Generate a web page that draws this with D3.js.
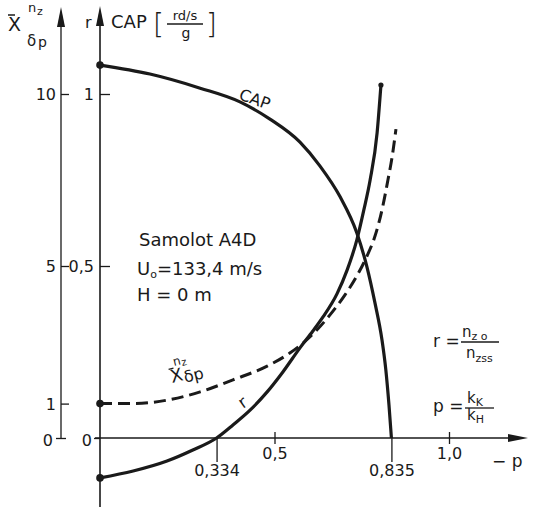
<!DOCTYPE html>
<html><head><meta charset="utf-8">
<script src="https://cdn.jsdelivr.net/npm/d3@7"></script>
<style>
html,body{margin:0;padding:0;background:#fff;}
svg{display:block;}
text{font-family:"DejaVu Sans","Noto Sans",sans-serif;fill:#1a1a1a;}
</style></head>
<body><svg id="c" width="533" height="507"></svg>
<script>
// ---- data ----
const capP   = [0, 0.143, 0.287, 0.401, 0.487, 0.573, 0.630, 0.688, 0.736, 0.765, 0.788, 0.808, 0.819, 0.828, 0.835];
const capVal = [1.084, 1.058, 1.017, 0.977, 0.927, 0.860, 0.791, 0.701, 0.596, 0.497, 0.392, 0.285, 0.198, 0.096, 0];
const rP     = [0, 0.095, 0.192, 0.266, 0.334, 0.381, 0.430, 0.479, 0.524, 0.573, 0.610, 0.639, 0.679, 0.708, 0.736, 0.756, 0.774, 0.794, 0.805];
const rVal   = [-0.116, -0.096, -0.067, -0.035, 0, 0.038, 0.081, 0.134, 0.192, 0.262, 0.311, 0.352, 0.419, 0.488, 0.576, 0.663, 0.750, 0.887, 1.026];
const xP     = [0, 0.095, 0.192, 0.287, 0.381, 0.479, 0.544, 0.610, 0.659, 0.702, 0.736, 0.765, 0.788, 0.808, 0.825, 0.837, 0.848];
const xVal   = [1.0, 1.0, 1.10, 1.34, 1.69, 2.09, 2.47, 3.02, 3.58, 4.16, 4.71, 5.29, 5.87, 6.63, 7.50, 8.17, 8.98];
const leftTicks = [1, 5, 10];
const mainTicks = [0.5, 1];
const pMajorTicks = [0.5, 1.0];
const pMarkedTicks = [0.334, 0.835];

const svg = d3.select("#c");
const x  = d3.scaleLinear().domain([0, 1]).range([100, 449]);
const yR = d3.scaleLinear().domain([0, 1]).range([438, 94]);
const yX = d3.scaleLinear().domain([0, 10]).range([438, 94]);
const fmt = d => String(d).replace(".", ",");
const ink = "#1a1a1a";

// axis lines with arrows
function arrowUp(cx, tip){ svg.append("path").attr("d",`M${cx},${tip} L${cx-4},${tip+20} L${cx+4},${tip+20} Z`).attr("fill",ink); }
svg.append("line").attr("x1",61).attr("x2",61).attr("y1",yX(0)).attr("y2",12).attr("stroke",ink).attr("stroke-width",1.3);
arrowUp(61, 7);
svg.append("line").attr("x1",100).attr("x2",100).attr("y1",507).attr("y2",12).attr("stroke",ink).attr("stroke-width",1.6);
arrowUp(100, 6);
svg.append("line").attr("x1",95).attr("x2",520).attr("y1",yR(0)).attr("y2",yR(0)).attr("stroke",ink).attr("stroke-width",1.5);
svg.append("path").attr("d",`M528,${yR(0)} L508,${yR(0)-4} L508,${yR(0)+4} Z`).attr("fill",ink);

function styleAxis(g, dy){
  g.select(".domain").remove();
  g.selectAll(".tick line").attr("stroke",ink).attr("stroke-width",1.3);
  g.selectAll(".tick text").attr("font-size",16).attr("fill",ink).attr("font-family","DejaVu Sans, sans-serif");
  if (dy) g.selectAll(".tick text").attr("dy",dy);
}
// left axis (X scale)
styleAxis(svg.append("g").attr("transform","translate(61,0)")
  .call(d3.axisLeft(yX).tickValues(leftTicks).tickSizeInner(-8).tickSizeOuter(0).tickPadding(5).tickFormat(fmt)), "0.36em");
styleAxis(svg.append("g").attr("transform","translate(66,0)")
  .call(d3.axisLeft(yX).tickValues([0]).tickSizeInner(10).tickSizeOuter(0).tickPadding(3).tickFormat(fmt)), "0.45em");
// main axis (r / CAP scale)
styleAxis(svg.append("g").attr("transform","translate(100,0)")
  .call(d3.axisLeft(yR).tickValues(mainTicks).tickSizeInner(-10).tickSizeOuter(0).tickPadding(6).tickFormat(fmt)), "0.36em");
styleAxis(svg.append("g").attr("transform","translate(100,0)")
  .call(d3.axisLeft(yR).tickValues([0]).tickSizeInner(6).tickSizeOuter(0).tickPadding(2).tickFormat(fmt)), "0.45em");
// p axis
styleAxis(svg.append("g").attr("transform",`translate(0,${yR(0)-6})`)
  .call(d3.axisBottom(x).tickValues(pMajorTicks).tickSizeInner(12).tickSizeOuter(0).tickPadding(4)
  .tickFormat(d=>d3.format(".1f")(d).replace(".",","))));
styleAxis(svg.append("g").attr("transform",`translate(0,${yR(0)})`)
  .call(d3.axisBottom(x).tickValues(pMarkedTicks).tickSizeInner(24).tickSizeOuter(0).tickPadding(3).tickFormat(fmt)));

// curves
const lineR = d3.line().x(d=>x(d[0])).y(d=>yR(d[1])).curve(d3.curveMonotoneX);
const lineX = d3.line().x(d=>x(d[0])).y(d=>yX(d[1])).curve(d3.curveMonotoneX);
const capData = capP.map((p,i)=>[p,capVal[i]]);
const rData = rP.map((p,i)=>[p,rVal[i]]);
const xData = xP.map((p,i)=>[p,xVal[i]]);
svg.append("path").attr("d",lineR(capData)).attr("fill","none").attr("stroke",ink).attr("stroke-width",3.2);
svg.append("path").attr("d",lineR(rData)).attr("fill","none").attr("stroke",ink).attr("stroke-width",3.2);
svg.append("path").attr("d",lineX(xData)).attr("fill","none").attr("stroke",ink).attr("stroke-width",3)
  .attr("stroke-dasharray","12,6");
// dots
[[x(capP[0]),yR(capVal[0])],[x(rP[0]),yR(rVal[0])],[x(xP[0]),yX(xVal[0])],[x(rP[rP.length-1]),yR(rVal[rVal.length-1])]]
  .forEach(([cx,cy],i)=>svg.append("circle").attr("cx",cx).attr("cy",cy).attr("r",i===3?2.6:3.8).attr("fill",ink));

// axis titles
const t1 = svg.append("g");
t1.append("text").attr("x",8).attr("y",31).attr("font-size",19).text("X");
t1.append("line").attr("x1",8).attr("x2",15).attr("y1",15).attr("y2",15).attr("stroke",ink).attr("stroke-width",1.5);
t1.append("text").attr("x",28).attr("y",12).attr("font-size",13).text("n");
t1.append("text").attr("x",37).attr("y",15).attr("font-size",11).text("z");
t1.append("text").attr("x",27).attr("y",46).attr("font-size",15).text("δ");
t1.append("text").attr("x",38).attr("y",47).attr("font-size",14).text("p");

svg.append("text").attr("x",85).attr("y",28).attr("font-size",16).text("r");
svg.append("text").attr("x",111).attr("y",28).attr("font-size",18).text("CAP");
svg.append("text").attr("x",153).attr("y",34).attr("font-size",28).attr("font-weight","300").text("[");
svg.append("text").attr("x",206).attr("y",34).attr("font-size",28).attr("font-weight","300").text("]");
svg.append("text").attr("x",185).attr("y",20).attr("font-size",13).attr("text-anchor","middle").text("rd/s");
svg.append("line").attr("x1",167).attr("x2",203).attr("y1",24).attr("y2",24).attr("stroke",ink).attr("stroke-width",1.5);
svg.append("text").attr("x",186).attr("y",38).attr("font-size",14).attr("text-anchor","middle").text("g");

// p axis label
svg.append("text").attr("x",492).attr("y",467).attr("font-size",17).text("− p");

// curve labels
svg.append("text").attr("transform","translate(238,99) rotate(20)").attr("font-size",16).text("CAP");
svg.append("text").attr("transform","translate(243,409) rotate(-35)").attr("font-size",17).text("r");
const lx = svg.append("g").attr("transform","translate(172,383) rotate(-14)");
lx.append("text").attr("x",0).attr("y",0).attr("font-size",18).text("X");
lx.append("line").attr("x1",0).attr("x2",5).attr("y1",-14).attr("y2",-14).attr("stroke",ink).attr("stroke-width",1.3);
lx.append("text").attr("x",6).attr("y",-16).attr("font-size",12).text("n");
lx.append("text").attr("x",14).attr("y",-14).attr("font-size",10).text("z");
lx.append("text").attr("x",13).attr("y",3).attr("font-size",16).text("δp");

// info text
svg.append("text").attr("x",139).attr("y",246).attr("font-size",18).text("Samolot A4D");
const u = svg.append("text").attr("x",137).attr("y",275).attr("font-size",18);
u.append("tspan").text("U");
u.append("tspan").attr("font-size",11).attr("dy",3).text("o");
u.append("tspan").attr("dy",-3).text("=133,4 m/s");
svg.append("text").attr("x",137).attr("y",301).attr("font-size",18).text("H = 0 m");

// formulas
svg.append("text").attr("x",433).attr("y",347).attr("font-size",17).text("r =");
const n1 = svg.append("text").attr("x",462).attr("y",337).attr("font-size",15);
n1.append("tspan").text("n"); n1.append("tspan").attr("font-size",11).attr("dy",3).text("z o");
svg.append("line").attr("x1",461).attr("x2",499).attr("y1",342).attr("y2",342).attr("stroke",ink).attr("stroke-width",1.3);
const n2 = svg.append("text").attr("x",466).attr("y",358).attr("font-size",15);
n2.append("tspan").text("n"); n2.append("tspan").attr("font-size",11).attr("dy",4).text("zss");
svg.append("text").attr("x",433).attr("y",412).attr("font-size",17).text("p =");
const k1 = svg.append("text").attr("x",467).attr("y",403).attr("font-size",15);
k1.append("tspan").text("k"); k1.append("tspan").attr("font-size",11).attr("dy",3).text("K");
svg.append("line").attr("x1",465).attr("x2",494).attr("y1",408).attr("y2",408).attr("stroke",ink).attr("stroke-width",1.3);
const k2 = svg.append("text").attr("x",467).attr("y",420).attr("font-size",15);
k2.append("tspan").text("k"); k2.append("tspan").attr("font-size",11).attr("dy",3).text("H");
</script></body></html>
